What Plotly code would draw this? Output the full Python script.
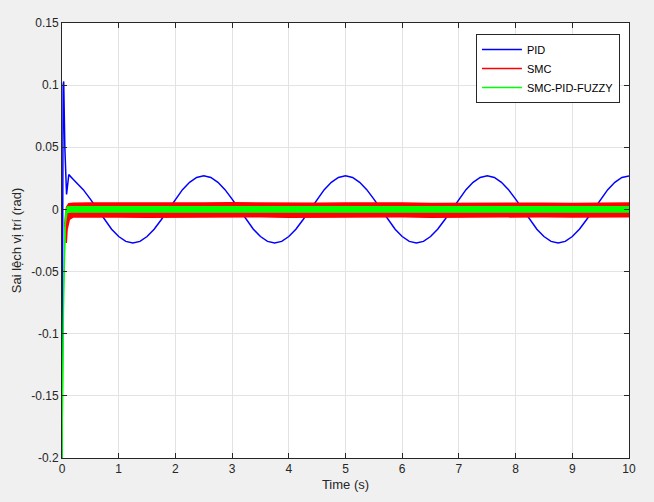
import plotly.graph_objects as go

# ---------------- data ----------------
# PID error: start-up transient then a steady oscillation (period ~2.5 s)
pid_t_start = [0.0, 0.01, 0.02, 0.03, 0.05, 0.08, 0.12, 0.2]
pid_v_start = [-0.2, 0.05, 0.100, 0.103, 0.05, 0.012, 0.028, 0.024]
pid_t_rest = [round(0.25 + 0.125 * i, 3) for i in range(79)]
pid_v_rest = [
    0.0218, 0.0159, 0.0083, 0.0, -0.0083, -0.0159, -0.0218, -0.0257, -0.027,
    -0.0257, -0.0218, -0.0159, -0.0083, 0.0, 0.0083, 0.0159, 0.0218, 0.0257, 0.027,
    0.0257, 0.0218, 0.0159, 0.0083, 0.0, -0.0083, -0.0159, -0.0218, -0.0257, -0.027,
    -0.0257, -0.0218, -0.0159, -0.0083, 0.0, 0.0083, 0.0159, 0.0218, 0.0257, 0.027,
    0.0257, 0.0218, 0.0159, 0.0083, 0.0, -0.0083, -0.0159, -0.0218, -0.0257, -0.027,
    -0.0257, -0.0218, -0.0159, -0.0083, 0.0, 0.0083, 0.0159, 0.0218, 0.0257, 0.027,
    0.0257, 0.0218, 0.0159, 0.0083, 0.0, -0.0083, -0.0159, -0.0218, -0.0257, -0.027,
    -0.0257, -0.0218, -0.0159, -0.0083, 0.0, 0.0083, 0.0159, 0.0218, 0.0257, 0.027,
]
pid_t = pid_t_start + pid_t_rest
pid_v = pid_v_start + pid_v_rest

# SMC: chattering band (upper / lower envelopes)
smc_up_t = [0.05, 0.08, 0.12, 0.2, 0.5, 1.0, 1.5, 2.0, 2.5, 3.0, 3.5, 4.0, 4.5, 5.0,
            5.5, 6.0, 6.5, 7.0, 7.5, 8.0, 8.5, 9.0, 9.5, 10.0]
smc_up_v = [-0.012, 0.002, 0.0046, 0.0050, 0.0051, 0.0050, 0.0048, 0.0049, 0.0052,
            0.0054, 0.0051, 0.0048, 0.0049, 0.0052, 0.0054, 0.0051, 0.0048, 0.0049, 0.0052,
            0.0053, 0.0050, 0.0048, 0.0050, 0.0052]
smc_lo_t = [0.05, 0.065, 0.075, 0.09, 0.13, 0.2, 0.5, 1.0, 1.5, 2.0, 2.5, 3.0, 3.5, 4.0, 4.5,
            5.0, 5.5, 6.0, 6.5, 7.0, 7.5, 8.0, 8.5, 9.0, 9.5, 10.0]
smc_lo_v = [-0.012, -0.026, -0.027, -0.016, -0.008, -0.0060, -0.0058, -0.0060, -0.0062, -0.0061,
            -0.0058, -0.0056, -0.0059, -0.0062, -0.0061, -0.0058, -0.0056, -0.0059, -0.0062,
            -0.0061, -0.0058, -0.0056, -0.0059, -0.0061, -0.0060, -0.0058]

# SMC-PID-FUZZY: narrow band around zero
fz_up_t = [0.0, 0.03, 0.06, 0.09, 0.15, 0.5, 1.0, 2.0, 3.0, 4.0, 5.0, 6.0, 7.0, 8.0, 9.0, 10.0]
fz_up_v = [-0.2, -0.06, -0.004, 0.0020, 0.0022, 0.0022, 0.0021, 0.0022, 0.0023, 0.0021,
           0.0022, 0.0023, 0.0021, 0.0022, 0.0023, 0.0022]
fz_lo_t = [0.0, 0.03, 0.06, 0.09, 0.15, 0.5, 1.0, 2.0, 3.0, 4.0, 5.0, 6.0, 7.0, 8.0, 9.0, 10.0]
fz_lo_v = [-0.2, -0.07, -0.012, -0.0025, -0.0021, -0.0021, -0.0022, -0.0021, -0.0020, -0.0022,
           -0.0021, -0.0020, -0.0022, -0.0021, -0.0020, -0.0021]

series_names = ["PID", "SMC", "SMC-PID-FUZZY"]
x_ticks = [0, 1, 2, 3, 4, 5, 6, 7, 8, 9, 10]
y_ticks = [-0.2, -0.15, -0.1, -0.05, 0, 0.05, 0.1, 0.15]
y_tick_text = ["-0.2", "-0.15", "-0.1", "-0.05", "0", "0.05", "0.1", "0.15"]

BLUE = "#0000ff"
RED = "#ff0000"
GREEN = "#00ff00"

fig = go.Figure()

# PID
fig.add_trace(go.Scatter(x=pid_t, y=pid_v, mode="lines", line=dict(color=BLUE, width=1.5),
                         showlegend=False, hoverinfo="skip"))
# SMC band
fig.add_trace(go.Scatter(x=smc_up_t, y=smc_up_v, mode="lines", line=dict(color=RED, width=1.5),
                         showlegend=False, hoverinfo="skip"))
fig.add_trace(go.Scatter(x=smc_lo_t, y=smc_lo_v, mode="lines", line=dict(color=RED, width=1.5),
                         fill="tonexty", fillcolor=RED, showlegend=False, hoverinfo="skip"))
# Fuzzy band
fig.add_trace(go.Scatter(x=fz_up_t, y=fz_up_v, mode="lines", line=dict(color=GREEN, width=1.2),
                         showlegend=False, hoverinfo="skip"))
fig.add_trace(go.Scatter(x=fz_lo_t, y=fz_lo_v, mode="lines", line=dict(color=GREEN, width=1.2),
                         fill="tonexty", fillcolor=GREEN, showlegend=False, hoverinfo="skip"))

# legend entries
for name, col in zip(series_names, [BLUE, RED, GREEN]):
    fig.add_trace(go.Scatter(x=[None], y=[None], mode="lines", name=name,
                             line=dict(color=col, width=1.5)))

axis_common = dict(
    showgrid=True, gridcolor="#e3e3e3", gridwidth=1,
    showline=True, linecolor="#262626", linewidth=1, mirror="ticks",
    ticks="inside", ticklen=5, tickcolor="#262626",
    zeroline=False,
    tickfont=dict(family="Liberation Sans, Arial", size=12, color="#262626"),
)

fig.update_xaxes(range=[0, 10], tickvals=x_ticks,
                 title=dict(text="Time (s)", standoff=4,
                            font=dict(family="Liberation Sans, Arial", size=13, color="#262626")),
                 **axis_common)
fig.update_yaxes(range=[-0.2, 0.15], tickvals=y_ticks, ticktext=y_tick_text,
                 title=dict(text="Sai lệch vị trí (rad)", standoff=6,
                            font=dict(family="Liberation Sans, Arial", size=13, color="#262626")),
                 **axis_common)

fig.update_layout(
    width=654, height=502,
    margin=dict(l=62, r=25, t=23, b=44),
    paper_bgcolor="#f0f0f0",
    plot_bgcolor="#ffffff",
    legend=dict(x=0.984, y=0.975, xanchor="right", yanchor="top",
                traceorder="normal",
                bgcolor="#ffffff", bordercolor="#262626", borderwidth=1,
                font=dict(family="Liberation Sans, Arial", size=11, color="#000000"),
                tracegroupgap=0, itemwidth=40),
    showlegend=True,
)

fig.write_html("out.html")
